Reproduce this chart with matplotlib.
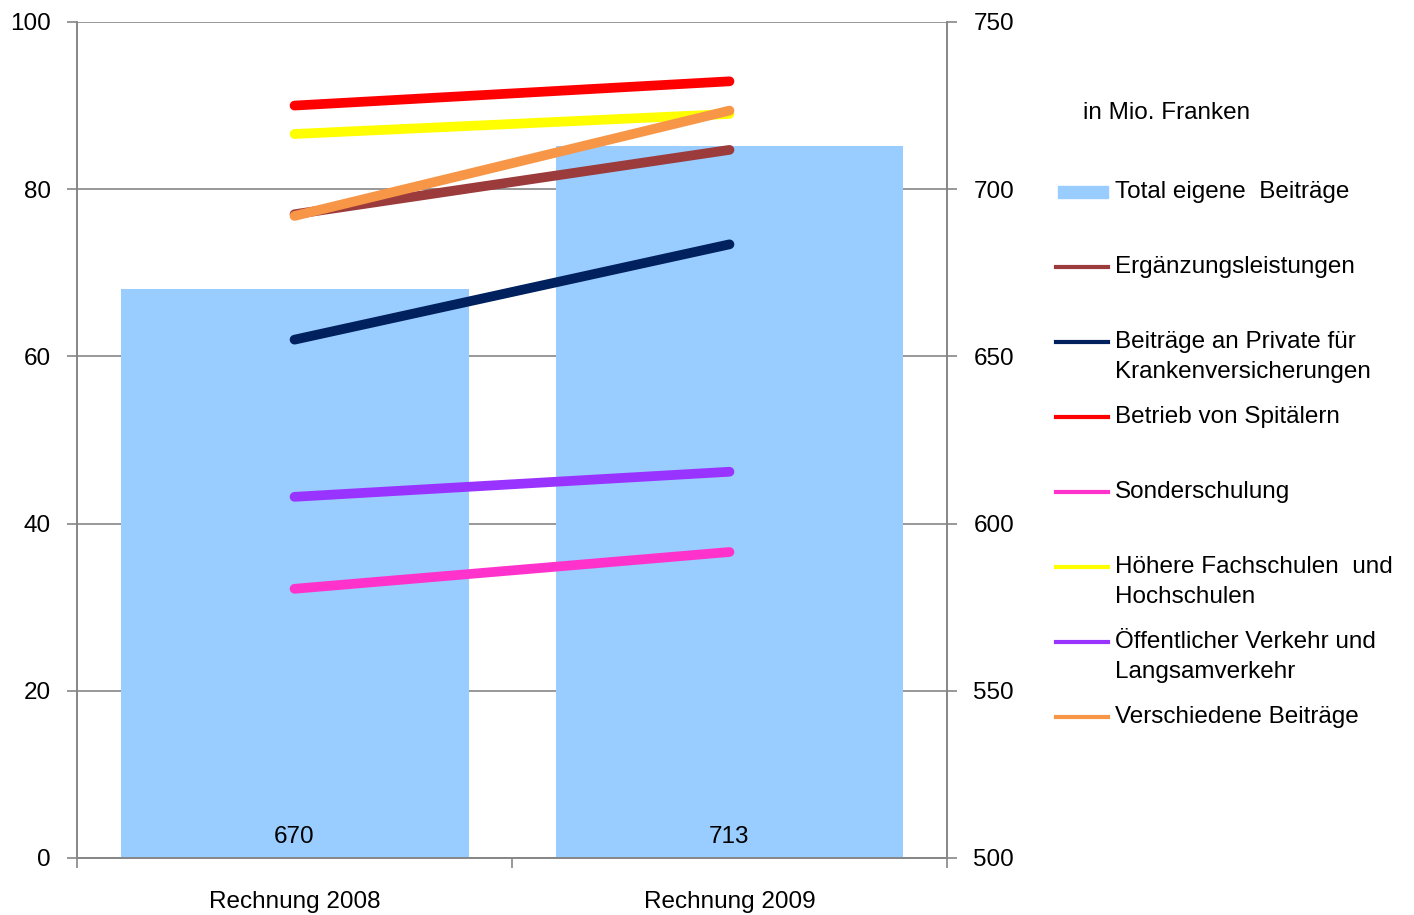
import numpy as np
import matplotlib.pyplot as plt
from matplotlib.lines import Line2D
from matplotlib.patches import Rectangle

plt.rcParams['font.family'] = ['Liberation Sans', 'DejaVu Sans']

categories = ['Rechnung 2008', 'Rechnung 2009']
total = [670, 713]  # Total eigene Beiträge (right axis)

series_names = ['Ergänzungsleistungen',
                'Beiträge an Private für\nKrankenversicherungen',
                'Betrieb von Spitälern',
                'Sonderschulung',
                'Höhere Fachschulen  und\nHochschulen',
                'Öffentlicher Verkehr und\nLangsamverkehr',
                'Verschiedene Beiträge']
ergaenzung = [77.0, 84.7]
private_kv = [62.0, 73.4]
spitaeler = [90.0, 92.9]
sonderschulung = [32.2, 36.6]
hochschulen = [86.6, 89.0]
verkehr = [43.2, 46.2]
verschiedene = [76.8, 89.4]
series_values = [ergaenzung, private_kv, spitaeler, sonderschulung,
                 hochschulen, verkehr, verschiedene]
series_colors = ['#9B3B3B', '#00215E', '#FF0000', '#FF33CC',
                 '#FFFF00', '#9933FF', '#F79646']
bar_color = '#99CCFF'
grey = '#868686'
fs = 17.5

fig = plt.figure(figsize=(14.14, 9.15), dpi=100)
ax2 = fig.add_axes([0.0545, 0.0623, 0.6152, 0.9137])
ax1 = ax2.twinx()
# left axis (lines) drawn on top of the right axis (bars)
ax1.yaxis.tick_left()
ax2.yaxis.tick_right()
ax1.set_zorder(ax2.get_zorder() + 1)
ax1.patch.set_visible(False)

x = np.arange(len(categories))
ax2.bar(x, total, width=0.8, color=bar_color, zorder=2)
for xi, v in zip(x, total):
    ax2.text(xi, 503, str(v), ha='center', va='bottom', fontsize=fs)
ax2.set_ylim(500, 750)
ax2.set_yticks(np.arange(500, 751, 50))
ax2.yaxis.grid(True, color=grey, linewidth=1.2, zorder=0)
ax2.set_axisbelow(True)

for vals, col in zip(series_values, series_colors):
    ax1.plot(x, vals, color=col, linewidth=7, solid_capstyle='round', zorder=3)
ax1.set_ylim(0, 100)
ax1.set_yticks(np.arange(0, 101, 20))

ax2.set_xlim(-0.5, 1.5)
ax2.set_xticks(x)
ax2.set_xticklabels(categories, fontsize=fs)
ax2.set_xticks([-0.5, 0.5, 1.5], minor=True)
ax2.tick_params(axis='x', which='major', length=0, pad=24)
ax2.tick_params(axis='x', which='minor', length=7, color=grey, width=1.2)
for a in (ax1, ax2):
    a.tick_params(axis='y', length=7, color=grey, width=1.2, labelsize=fs, pad=12)
    for s in a.spines.values():
        s.set_color(grey)
        s.set_linewidth(1.2)
    a.spines['top'].set_visible(False)

# legend on the right
W, H = 1414, 915
fig.text(1083 / W, 1 - 113 / H, 'in Mio. Franken', fontsize=fs, va='center', ha='left')
legend_y = [192, 267, 342, 417, 492, 567, 642, 717]
fig.add_artist(Rectangle((1058 / W, 1 - 198 / H), 50 / W, 12 / H,
                         transform=fig.transFigure, color=bar_color))
fig.text(1115 / W, 1 - legend_y[0] / H, 'Total eigene  Beiträge', fontsize=fs, va='center')
for name, col, yy in zip(series_names, series_colors, legend_y[1:]):
    fig.add_artist(Line2D([1056 / W, 1108 / W], [1 - yy / H, 1 - yy / H],
                          transform=fig.transFigure, color=col, linewidth=3))
    for i, part in enumerate(name.split('\n')):
        fig.text(1115 / W, 1 - (yy + 30 * i) / H, part, fontsize=fs, va='center')

fig.savefig('out.png', dpi=100)
